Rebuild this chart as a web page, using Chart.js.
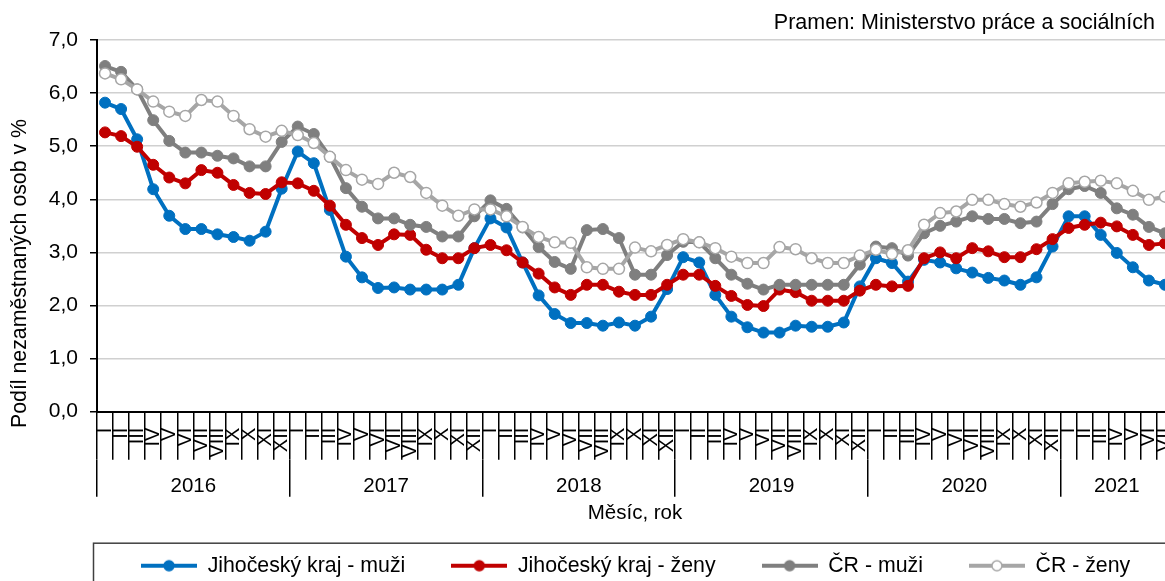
<!DOCTYPE html>
<html lang="cs">
<head>
<meta charset="utf-8">
<title>Podíl nezaměstnaných osob</title>
<script src="https://cdn.jsdelivr.net/npm/chart.js@4.4.1/dist/chart.umd.min.js"></script>
<style>
  html, body { margin: 0; padding: 0; background: #fff; }
  #wrap { position: relative; width: 1165px; height: 581px; overflow: hidden; }
  #chart { position: absolute; left: 0; top: 0; }
  #source {
    position: absolute; right: 10px; top: 10px;
    font: 21.5px Arial, "Liberation Sans", sans-serif; color: #000; white-space: nowrap;
  }
  #ytitle {
    position: absolute; left: 7px; top: 428px;
    transform: rotate(-90deg); transform-origin: left top;
    font: 21.3px/24px Arial, "Liberation Sans", sans-serif; color: #000; white-space: nowrap;
  }
</style>
</head>
<body>
<div id="wrap">
  <canvas id="chart" width="1180" height="604"></canvas>
  <div id="source">Pramen: Ministerstvo práce a sociálních</div>
  <div id="ytitle">Podíl nezaměstnaných osob v %</div>
</div>
<script>
// ── Data ────────────────────────────────────────────────────
const monthLabels = ['I', 'II', 'III', 'IV', 'V', 'VI', 'VII', 'VIII', 'IX', 'X', 'XI', 'XII'];
const years = ['2016', '2017', '2018', '2019', '2020', '2021'];
const monthsPerYear = [12, 12, 12, 12, 12, 7];

// Podíl nezaměstnaných osob v % (I/2016 – VII/2021)
const jcMuzi = [
  5.82, 5.70, 5.13, 4.19, 3.69, 3.44, 3.44, 3.34, 3.29, 3.22, 3.39, 4.20,
  4.90, 4.68, 3.80, 2.92, 2.53, 2.33, 2.34, 2.30, 2.30, 2.30, 2.39, 3.08,
  3.64, 3.47, 2.81, 2.19, 1.84, 1.67, 1.67, 1.62, 1.68, 1.62, 1.79, 2.31,
  2.91, 2.81, 2.20, 1.79, 1.59, 1.49, 1.49, 1.62, 1.60, 1.60, 1.68, 2.36,
  2.89, 2.80, 2.45, 2.86, 2.81, 2.70, 2.62, 2.52, 2.47, 2.39, 2.53, 3.11,
  3.68, 3.68, 3.33, 2.99, 2.72, 2.47, 2.39
];
const jcZeny = [
  5.26, 5.19, 4.99, 4.65, 4.41, 4.30, 4.55, 4.50, 4.27, 4.12, 4.10, 4.32,
  4.30, 4.16, 3.88, 3.52, 3.27, 3.14, 3.34, 3.33, 3.05, 2.89, 2.89, 3.08,
  3.14, 3.04, 2.81, 2.60, 2.34, 2.20, 2.39, 2.39, 2.26, 2.20, 2.20, 2.39,
  2.58, 2.58, 2.37, 2.18, 2.01, 1.99, 2.30, 2.25, 2.09, 2.09, 2.09, 2.28,
  2.39, 2.36, 2.37, 2.89, 3.00, 2.89, 3.08, 3.02, 2.91, 2.91, 3.06, 3.25,
  3.46, 3.52, 3.56, 3.49, 3.33, 3.14, 3.17
];
const crMuzi = [
  6.51, 6.40, 6.07, 5.49, 5.10, 4.88, 4.88, 4.82, 4.77, 4.62, 4.62, 5.08,
  5.37, 5.23, 4.80, 4.21, 3.86, 3.64, 3.64, 3.52, 3.48, 3.30, 3.30, 3.68,
  3.98, 3.82, 3.47, 3.10, 2.82, 2.69, 3.42, 3.44, 3.27, 2.58, 2.58, 2.95,
  3.20, 3.19, 2.89, 2.58, 2.41, 2.30, 2.39, 2.39, 2.39, 2.39, 2.39, 2.77,
  3.11, 3.08, 2.94, 3.36, 3.50, 3.58, 3.68, 3.63, 3.63, 3.55, 3.58, 3.91,
  4.19, 4.25, 4.12, 3.83, 3.71, 3.48, 3.36
];
const crZeny = [
  6.37, 6.26, 6.07, 5.84, 5.65, 5.57, 5.87, 5.84, 5.57, 5.32, 5.18, 5.29,
  5.21, 5.06, 4.80, 4.55, 4.37, 4.29, 4.50, 4.42, 4.12, 3.88, 3.69, 3.81,
  3.81, 3.68, 3.48, 3.29, 3.19, 3.18, 2.72, 2.69, 2.69, 3.09, 3.02, 3.14,
  3.25, 3.19, 3.08, 2.92, 2.80, 2.80, 3.10, 3.06, 2.89, 2.80, 2.80, 2.94,
  3.05, 2.97, 3.04, 3.52, 3.74, 3.77, 3.99, 3.99, 3.91, 3.86, 3.94, 4.12,
  4.30, 4.33, 4.35, 4.30, 4.16, 3.99, 4.05
];

// ── Categories (month I..XII inside each year) ─────────────
const categories = [];
const yearStart = [];
years.forEach((y, k) => {
  yearStart.push(categories.length);
  for (let m = 0; m < monthsPerYear[k]; m++) categories.push(monthLabels[m]);
});
const nPoints = categories.length;

const FONT = 'Arial, "Liberation Sans", sans-serif';

// small line+marker image for the legend
function legendMark(color, fill) {
  const c = document.createElement('canvas');
  c.width = 56; c.height = 14;
  const g = c.getContext('2d');
  g.strokeStyle = color; g.lineWidth = 4;
  g.beginPath(); g.moveTo(0, 7); g.lineTo(56, 7); g.stroke();
  g.beginPath(); g.arc(28, 7, 5, 0, Math.PI * 2);
  g.fillStyle = fill; g.fill();
  g.lineWidth = 1.5; g.stroke();
  return c;
}

function series(label, data, color, fill, order) {
  return {
    label: label,
    data: data,
    borderColor: color,
    backgroundColor: color,
    pointBackgroundColor: fill,
    pointBorderColor: color,
    pointBorderWidth: fill === color ? 1 : 1.5,
    pointRadius: 5.5,
    borderWidth: 4,
    tension: 0,
    order: order,
    mark: legendMark(color, fill),
  };
}

// year boundaries + year centres on the second x axis
function yearTicks(scale) {
  const t = [];
  years.forEach((y, k) => {
    const s = yearStart[k];
    const e = s + monthsPerYear[k];
    t.push({ value: s - 0.5 });
    t.push({ value: (s + e - 1) / 2, year: y });
  });
  t.push({ value: nPoints - 0.5 });
  scale.ticks = t;
}

// moves the legend under the axis title and draws its frame
const legendFrame = {
  id: 'legendFrame',
  afterLayout(chart) {
    const lg = chart.legend;
    const pad = lg.options.labels.padding;
    const fs = lg.options.labels.font.size;
    const centerY = chart.scales.x2.bottom + 39;
    lg.left = chart.chartArea.left - 4 + (48 - pad);
    lg.right = lg.left + 1400;
    lg.top = centerY - pad - fs / 2;
    lg.bottom = lg.top + lg.height;
    lg._frameLeft = chart.chartArea.left - 4;
    lg._frameTop = centerY - 23;
  },
  afterDraw(chart) {
    const lg = chart.legend;
    const ctx = chart.ctx;
    ctx.save();
    ctx.strokeStyle = '#404040';
    ctx.lineWidth = 1.5;
    ctx.strokeRect(lg._frameLeft + 0.5, lg._frameTop + 0.5, chart.width, 100);
    ctx.restore();
  }
};

new Chart(document.getElementById('chart'), {
  type: 'line',
  data: {
    labels: categories,
    datasets: [
      series('Jihočeský kraj - muži', jcMuzi, '#0070C0', '#0070C0', 4),
      series('Jihočeský kraj - ženy', jcZeny, '#C00000', '#C00000', 3),
      series('ČR - muži', crMuzi, '#7F7F7F', '#7F7F7F', 2),
      series('ČR - ženy', crZeny, '#A6A6A6', '#FFFFFF', 1),
    ],
  },
  options: {
    responsive: false,
    animation: false,
    layout: { padding: { top: 40, right: 6, left: 0, bottom: 0 } },
    plugins: {
      tooltip: { enabled: false },
      legend: {
        position: 'bottom',
        align: 'start',
        labels: {
          usePointStyle: true,
          pointStyleWidth: 56,
          padding: 46,
          color: '#000',
          font: { size: 21.3, family: FONT },
          generateLabels: (chart) => chart.data.datasets.map((ds, i) => ({
            text: ds.label,
            pointStyle: ds.mark,
            datasetIndex: i,
            fontColor: '#000',
            hidden: false,
            lineWidth: 0,
          })),
        },
      },
    },
    scales: {
      y: {
        min: 0,
        max: 7,
        ticks: {
          stepSize: 1,
          padding: 12,
          color: '#000',
          font: { size: 21, family: FONT },
          callback: (v) => v.toFixed(1).replace('.', ','),
        },
        grid: {
          color: (c) => (c.tick && c.tick.value === 0 ? 'rgba(0,0,0,0)' : '#d0d0d0'),
          lineWidth: 1.5,
          tickLength: 7,
          tickColor: '#000',
          tickWidth: 1.5,
        },
        border: { color: '#000', width: 2 },
        afterFit: (s) => { s.width = 97; },
      },
      x: {
        type: 'category',
        offset: true,
        weight: 0,
        grid: { offset: true, drawOnChartArea: false, tickLength: 48, color: '#000', lineWidth: 1.5 },
        border: { color: '#000', width: 2 },
        ticks: {
          autoSkip: false,
          maxRotation: 90,
          minRotation: 90,
          padding: -32,
          color: '#000',
          font: { size: 20, family: FONT },
        },
        afterFit: (s) => { s.height = 48; },
      },
      x2: {
        type: 'linear',
        position: 'bottom',
        weight: 1,
        min: -0.5,
        max: nPoints - 0.5,
        afterBuildTicks: yearTicks,
        grid: {
          drawOnChartArea: false,
          tickLength: 37,
          color: (c) => (c.tick && c.tick.year ? 'rgba(0,0,0,0)' : '#000'),
          lineWidth: 1.5,
        },
        border: { display: false },
        ticks: {
          autoSkip: false,
          maxRotation: 0,
          padding: -23,
          color: '#000',
          font: { size: 20.5, family: FONT },
          callback: (v, i, t) => (t[i] && t[i].year) || '',
        },
        title: {
          display: true,
          text: 'Měsíc, rok',
          color: '#000',
          font: { size: 20.5, family: FONT },
          padding: { top: 0, bottom: 1 },
        },
        afterFit: (s) => { s.height = 67; },
      },
    },
  },
  plugins: [legendFrame],
});
</script>
</body>
</html>
